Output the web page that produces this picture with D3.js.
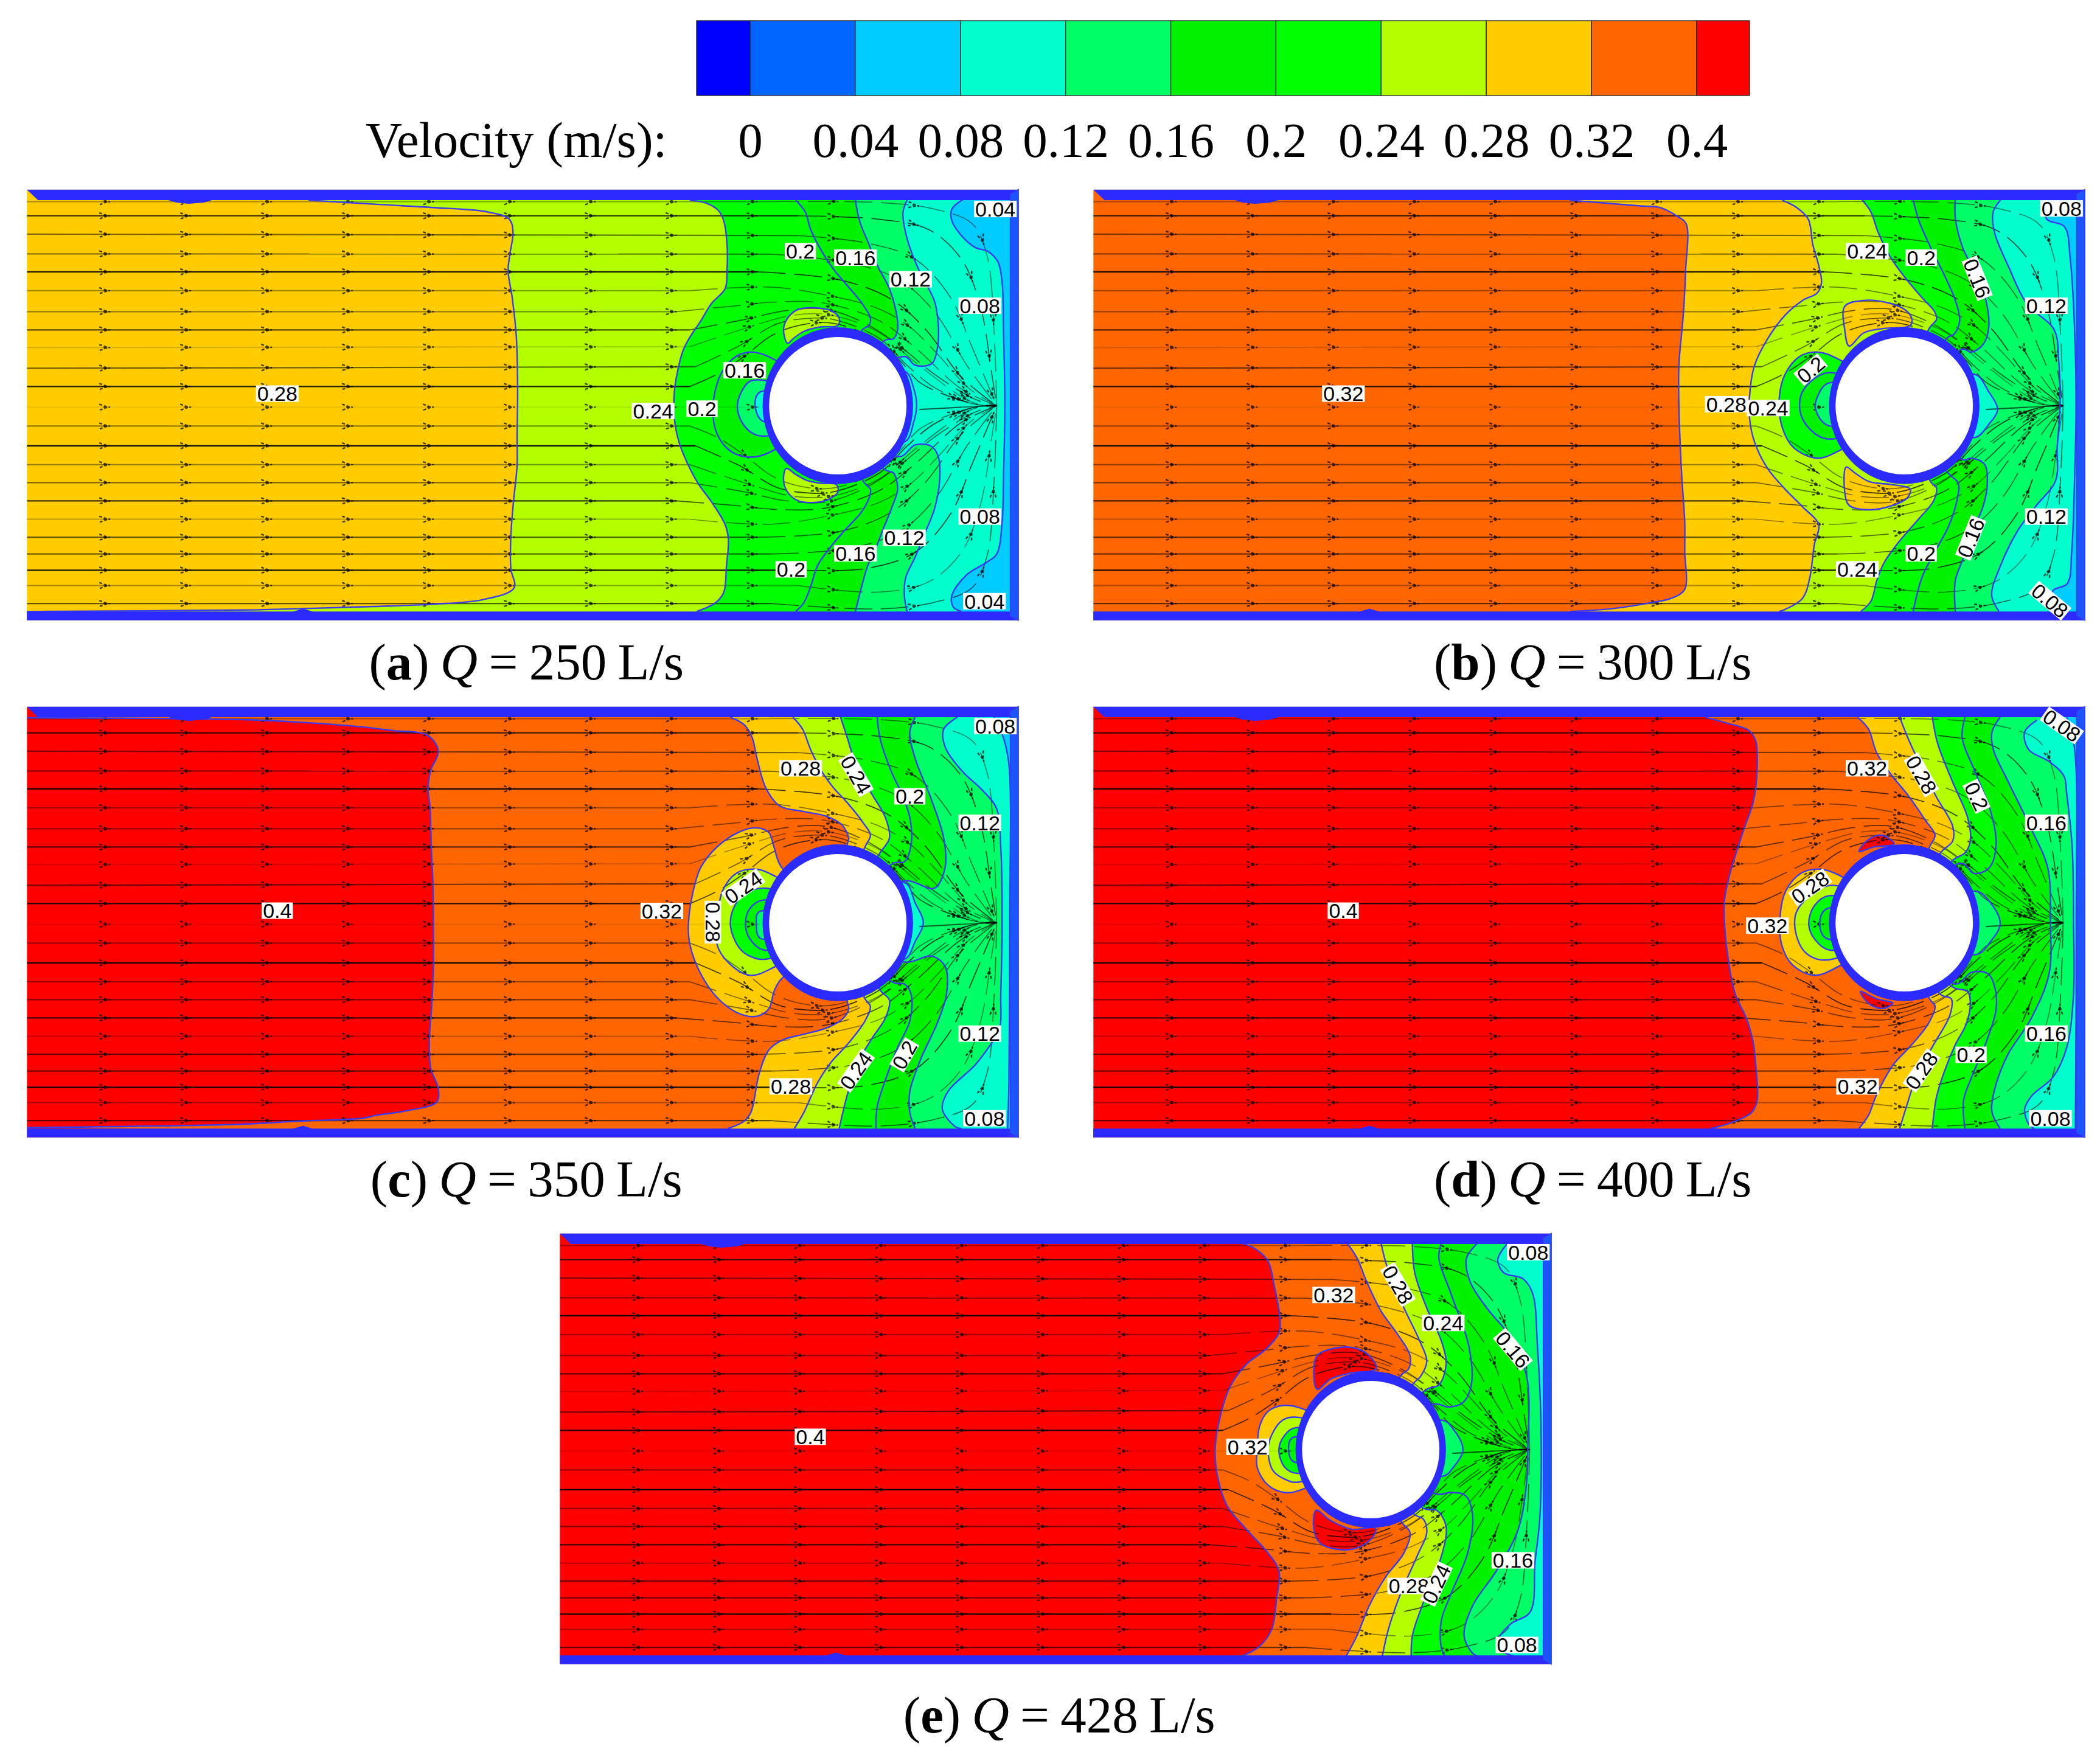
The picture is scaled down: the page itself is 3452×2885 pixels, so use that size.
<!DOCTYPE html>
<html>
<head>
<meta charset="utf-8">
<script src="https://cdn.jsdelivr.net/npm/d3@7"></script>
<style>
html,body{margin:0;padding:0;background:#fff}
svg{display:block}
text{white-space:pre}
</style>
</head>
<body>
<div id="chart"></div>
<script>
// colour bar
var tickLabels = ['0','0.04','0.08','0.12','0.16','0.2','0.24','0.28','0.32','0.4']
var levels = [0,0.04,0.08,0.12,0.16,0.2,0.24,0.28,0.32,0.4]
var palette = ['#0000ff','#0066ff','#00ccff','#00ffcc','#00ff66','#00f200','#00ff00','#b3ff00','#ffcc00','#ff6600','#ff0000']

// captions
var flowRates = ['250','300','350','400','428']
var panelNames = ['a','b','c','d','e']
var captionBaseline = [1117,1117,1967,1967,2848]
var baseVelocity = [0.30,0.36,0.42,0.42,0.42]

// contours: [velocity inside, 'open' (top wall to bottom wall, fill to its right) or 'closed', points]
var contoursA = [
 [0.26,'open',[[-1104,60],[-834,75],[-644,85],[-444,100],[-364,125],[-351,170],[-362,240],[-369,300],[-354,390],[-339,520],[-334,700],[-336,860],[-336,960],[-349,1080],[-359,1200],[-359,1310],[-347,1375],[-464,1415],[-644,1430],[-864,1438],[-1124,1445],[-1344,1450],[-2141,1455]]],
 [0.22,'open',[[300,60],[360,70],[405,95],[425,130],[437,210],[437,300],[430,360],[380,410],[340,470],[300,525],[275,570],[255,640],[243,710],[243,800],[260,880],[290,950],[330,1020],[385,1090],[430,1160],[442,1210],[435,1300],[425,1390],[395,1425],[325,1455]]],
 [0.18,'open',[[690,60],[725,100],[745,160],[790,240],[830,295],[880,350],[930,405],[965,460],[960,485],[935,500],[845,757],[940,1015],[965,1040],[960,1070],[930,1120],[870,1180],[815,1240],[770,1300],[745,1370],[720,1425],[690,1455]]],
 [0.14,'open',[[910,60],[925,130],[960,210],[990,280],[1035,360],[1060,440],[1065,500],[1050,530],[1020,535],[845,757],[1020,975],[1050,985],[1065,1040],[1045,1100],[1010,1180],[985,1240],[955,1300],[930,1380],[910,1455]]],
 [0.10,'open',[[1100,60],[1085,100],[1090,150],[1110,220],[1150,310],[1200,400],[1215,480],[1210,570],[1190,615],[1130,620],[1090,590],[845,757],[1070,930],[1130,890],[1190,895],[1215,930],[1220,1010],[1200,1110],[1165,1190],[1130,1270],[1095,1340],[1090,1400],[1100,1455]]],
 [0.06,'open',[[1310,55],[1265,90],[1265,130],[1300,180],[1350,220],[1400,235],[1435,270],[1450,340],[1455,500],[1460,757],[1455,1000],[1450,1150],[1430,1260],[1390,1290],[1320,1330],[1265,1400],[1270,1440],[1300,1455]]],
 [0.18,'closed',[[610,600],[560,580],[520,575],[470,590],[420,640],[395,700],[385,770],[395,840],[430,895],[480,925],[545,930],[605,910],[845,757]]],
 [0.14,'closed',[[565,670],[520,675],[490,710],[475,760],[490,810],[530,850],[580,860],[845,757]]],
 [0.10,'closed',[[560,710],[540,750],[570,810],[845,757]]],
 [0.10,'closed',[[1090,640],[1125,700],[1135,757],[1125,810],[1090,880],[845,757]]],
 [0.26,'closed',[[660,545],[645,500],[660,460],[700,430],[760,425],[820,435],[850,460],[845,485],[780,490],[720,505],[680,530]]],
 [0.26,'closed',[[655,970],[645,1010],[660,1050],[700,1080],[760,1085],[810,1075],[845,1050],[840,1025],[780,1020],[730,1010],[690,990]]]
]
var contoursB = [
 [0.30,'open',[[-250,60],[0,80],[60,85],[120,115],[150,140],[148,300],[140,450],[125,620],[125,760],[130,900],[135,1000],[145,1150],[145,1250],[145,1380],[100,1410],[30,1425],[-100,1445],[-250,1455]]],
 [0.26,'open',[[480,60],[530,85],[570,125],[585,210],[605,280],[615,340],[600,375],[550,400],[490,450],[430,530],[385,620],[370,700],[368,800],[385,880],[430,970],[490,1040],[550,1100],[605,1160],[590,1230],[575,1340],[550,1410],[490,1448],[470,1455]]],
 [0.22,'open',[[755,60],[785,100],[810,170],[850,250],[900,320],[960,390],[1005,440],[1010,465],[985,495],[900,757],[990,1015],[1010,1035],[1000,1080],[950,1140],[880,1220],[830,1290],[805,1350],[785,1420],[750,1455]]],
 [0.18,'open',[[930,60],[950,130],[990,220],[1040,320],[1075,400],[1090,470],[1070,515],[1050,525],[900,757],[1050,985],[1085,1020],[1080,1080],[1050,1170],[1000,1260],[960,1340],[930,1455]]],
 [0.14,'open',[[1075,60],[1075,120],[1100,220],[1140,300],[1175,380],[1190,490],[1170,550],[1130,575],[1100,565],[900,757],[1100,940],[1130,935],[1175,955],[1185,1020],[1170,1100],[1130,1190],[1100,1280],[1075,1350],[1075,1455]]],
 [0.10,'open',[[1230,60],[1205,100],[1210,170],[1260,290],[1320,410],[1415,500],[1430,600],[1435,757],[1425,900],[1420,1010],[1350,1100],[1290,1180],[1230,1300],[1200,1400],[1225,1455]]],
 [0.06,'open',[[1370,60],[1390,125],[1450,150],[1470,260],[1485,500],[1490,757],[1485,1000],[1475,1250],[1460,1360],[1410,1385],[1420,1455]]],
 [0.22,'closed',[[675,600],[600,575],[540,590],[490,650],[470,730],[480,830],[520,900],[600,935],[675,910],[900,757]]],
 [0.18,'closed',[[650,645],[590,665],[545,720],[545,790],[590,850],[650,870],[900,757]]],
 [0.14,'closed',[[640,680],[600,730],[595,770],[640,825],[900,757]]],
 [0.10,'closed',[[1140,650],[1190,710],[1220,770],[1190,820],[1140,865],[900,757]]],
 [0.30,'closed',[[710,555],[695,500],[695,420],[760,400],[830,405],[900,430],[925,460],[920,485],[830,495],[760,510]]],
 [0.30,'closed',[[700,965],[695,1050],[710,1095],[780,1110],[860,1095],[910,1070],[920,1040],[860,1025],[780,1015],[730,985]]]
]
var contoursC = [
 [0.36,'open',[[-2141,62],[-1344,68],[-1114,78],[-914,92],[-794,105],[-664,122],[-626,175],[-654,240],[-664,300],[-656,370],[-652,500],[-646,620],[-644,760],[-644,900],[-651,1050],[-659,1150],[-654,1250],[-626,1320],[-632,1365],[-744,1395],[-854,1410],[-904,1420],[-1144,1430],[-1344,1440],[-2141,1452]]],
 [0.30,'open',[[450,60],[500,85],[530,130],[545,190],[580,300],[630,360],[720,380],[800,395],[860,425],[885,470],[880,490],[845,757],[880,1025],[885,1050],[860,1085],[800,1115],[720,1135],[640,1155],[590,1190],[555,1270],[525,1400],[500,1430],[440,1455]]],
 [0.26,'open',[[680,60],[715,100],[745,170],[790,250],[830,300],[880,350],[940,420],[965,460],[945,500],[845,757],[945,1015],[965,1040],[945,1090],[880,1170],[820,1230],[770,1300],[720,1400],[685,1455]]],
 [0.22,'open',[[855,60],[880,130],[915,230],[970,320],[1020,400],[1035,470],[1000,520],[845,757],[1000,985],[1035,1020],[1020,1080],[970,1150],[920,1230],[880,1340],[850,1455]]],
 [0.18,'open',[[990,60],[1000,130],[1040,240],[1080,320],[1110,400],[1115,490],[1090,550],[1050,555],[845,757],[1050,960],[1090,965],[1115,1000],[1110,1090],[1065,1180],[1020,1290],[990,1380],[985,1455]]],
 [0.14,'open',[[1130,60],[1110,110],[1130,200],[1190,340],[1235,470],[1240,570],[1200,640],[1090,615],[845,757],[1090,890],[1190,870],[1240,905],[1245,1000],[1210,1100],[1150,1220],[1110,1330],[1110,1400],[1130,1455]]],
 [0.10,'open',[[1285,60],[1235,100],[1240,160],[1300,240],[1380,310],[1430,370],[1445,500],[1450,757],[1445,1000],[1440,1120],[1400,1180],[1350,1240],[1250,1330],[1230,1390],[1280,1450],[1300,1455]]],
 [0.06,'open',[[1420,60],[1455,130],[1475,220],[1478,757],[1475,1300],[1470,1455]]],
 [0.30,'closed',[[635,565],[610,500],[590,450],[540,435],[480,450],[400,500],[340,570],[310,660],[295,760],[300,830],[340,930],[400,1010],[470,1060],[540,1075],[590,1050],[610,990],[630,955],[845,757]]],
 [0.26,'closed',[[605,595],[540,575],[470,590],[420,650],[405,720],[400,830],[440,890],[520,935],[605,910],[845,757]]],
 [0.22,'closed',[[585,640],[500,660],[460,710],[450,770],[480,840],[520,870],[585,880],[845,757]]],
 [0.18,'closed',[[570,680],[520,710],[505,760],[520,810],[575,850],[845,757]]],
 [0.14,'closed',[[555,720],[545,760],[560,810],[845,757]]],
 [0.10,'closed',[[1090,620],[1130,690],[1160,757],[1130,820],[1090,880],[845,757]]]
]
var contoursD = [
 [0.36,'open',[[120,60],[200,80],[280,105],[305,140],[310,240],[295,350],[265,430],[240,500],[210,590],[190,680],[190,760],[205,890],[230,1000],[270,1080],[295,1160],[305,1240],[310,1360],[290,1400],[230,1430],[140,1455]]],
 [0.30,'open',[[680,60],[720,100],[750,180],[800,250],[870,330],[930,410],[965,460],[945,500],[851,757],[945,1015],[965,1040],[940,1100],[880,1170],[810,1240],[750,1340],[720,1410],[685,1455]]],
 [0.26,'open',[[835,60],[865,130],[910,220],[970,330],[1030,430],[1030,480],[985,520],[851,757],[985,1000],[1025,1015],[1020,1070],[960,1170],[900,1270],[860,1380],[835,1455]]],
 [0.22,'open',[[955,60],[975,150],[1030,280],[1085,400],[1095,480],[1075,520],[1030,545],[851,757],[1030,975],[1085,990],[1095,1030],[1080,1100],[1040,1170],[1000,1260],[970,1350],[955,1455]]],
 [0.18,'open',[[1075,60],[1065,130],[1110,240],[1170,380],[1190,490],[1165,570],[1110,590],[1060,555],[851,757],[1040,965],[1100,925],[1160,930],[1185,975],[1190,1050],[1150,1170],[1100,1280],[1070,1360],[1075,1455]]],
 [0.14,'open',[[1205,60],[1175,110],[1180,170],[1230,270],[1320,440],[1380,570],[1390,757],[1385,930],[1320,1080],[1230,1210],[1180,1340],[1175,1400],[1205,1455]]],
 [0.10,'open',[[1340,70],[1295,110],[1310,170],[1385,210],[1440,260],[1450,320],[1470,500],[1475,757],[1475,1000],[1450,1180],[1400,1280],[1320,1345],[1295,1390],[1310,1440],[1330,1455]]],
 [0.06,'open',[[1450,60],[1478,160],[1485,757],[1482,1455]]],
 [0.30,'closed',[[610,595],[540,575],[470,590],[415,650],[395,730],[400,830],[440,900],[520,935],[610,905],[851,757]]],
 [0.26,'closed',[[590,630],[500,670],[455,720],[450,780],[480,850],[530,880],[590,880],[851,757]]],
 [0.22,'closed',[[575,665],[520,700],[500,760],[520,810],[580,850],[851,757]]],
 [0.18,'closed',[[565,710],[540,760],[565,810],[851,757]]],
 [0.14,'closed',[[1115,650],[1170,690],[1205,760],[1170,820],[1115,865],[851,757]]],
 [0.42,'closed',[[685,515],[720,475],[770,460],[815,490],[740,500]]],
 [0.42,'closed',[[690,990],[720,1030],[770,1048],[810,1030],[750,1015]]]
]
var contoursE = [
 [0.36,'open',[[235,70],[290,90],[340,130],[365,210],[390,330],[385,375],[330,430],[250,480],[180,560],[135,680],[120,770],[130,860],[170,960],[250,1040],[340,1120],[385,1180],[375,1280],[355,1380],[300,1440],[230,1470]]],
 [0.30,'open',[[670,70],[710,120],[750,200],[810,300],[880,380],[930,450],[925,495],[890,520],[767,770],[895,1015],[930,1050],[905,1120],[830,1200],[760,1300],[710,1400],[665,1470]]],
 [0.26,'open',[[810,70],[835,150],[900,280],[970,400],[1000,470],[975,520],[945,545],[767,770],[950,990],[985,1005],[1000,1050],[960,1130],[890,1260],[840,1380],[815,1470]]],
 [0.22,'open',[[940,70],[950,170],[1000,290],[1060,400],[1080,480],[1050,550],[1000,565],[767,770],[990,970],[1040,975],[1080,1030],[1050,1160],[980,1300],[940,1400],[935,1470]]],
 [0.18,'open',[[1060,70],[1050,120],[1100,240],[1175,420],[1185,550],[1150,610],[1090,625],[1030,615],[767,770],[1040,920],[1100,915],[1160,925],[1190,990],[1170,1120],[1100,1260],[1060,1350],[1060,1440],[1075,1470]]],
 [0.14,'open',[[1210,70],[1165,120],[1180,200],[1250,290],[1340,380],[1415,520],[1420,770],[1415,880],[1380,1040],[1290,1180],[1190,1300],[1155,1400],[1190,1460],[1210,1470]]],
 [0.10,'open',[[1335,70],[1295,125],[1320,170],[1400,190],[1440,240],[1460,420],[1475,700],[1470,1000],[1450,1150],[1430,1320],[1350,1360],[1300,1410],[1310,1450],[1360,1470]]],
 [0.30,'closed',[[480,630],[400,620],[340,640],[305,690],[295,770],[295,830],[340,890],[410,915],[480,905],[767,770]]],
 [0.26,'closed',[[465,660],[400,670],[355,720],[340,770],[360,840],[410,870],[465,880],[767,770]]],
 [0.22,'closed',[[455,695],[410,720],[385,770],[410,830],[460,850],[767,770]]],
 [0.18,'closed',[[440,730],[425,770],[445,810],[767,770]]],
 [0.14,'closed',[[1065,670],[1110,700],[1150,770],[1110,830],[1065,860],[767,770]]],
 [0.42,'closed',[[545,565],[530,510],[545,450],[620,425],[700,425],[760,450],[790,495],[680,510],[600,530]]],
 [0.42,'closed',[[540,975],[530,1040],[555,1085],[630,1108],[720,1100],[780,1060],[785,1035],[690,1040],[600,1010]]]
]

// contour labels: [text, x, y, angle]
var labelsA = [['0.28',-1219,716,0],['0.04',1425,90,0],['0.2',707,233,0],['0.16',910,255,0],['0.12',1113,328,0],['0.08',1368,418,0],['0.16',502,637,0],['0.24',165,775,0],['0.2',345,767,0],['0.08',1368,1133,0],['0.12',1090,1205,0],['0.16',910,1258,0],['0.2',673,1312,0],['0.04',1385,1420,0]]
var labelsB = [['0.32',-1028,716,0],['0.08',1440,88,0],['0.24',772,233,0],['0.2',958,255,0],['0.16',1150,325,68],['0.12',1388,418,0],['0.2',578,635,-40],['0.28',288,752,0],['0.24',432,765,0],['0.12',1388,1133,0],['0.16',1128,1205,-68],['0.2',958,1258,0],['0.24',738,1312,0],['0.08',1400,1418,40]]
var labelsC = [['0.4',-1219,716,0],['0.08',1425,90,0],['0.28',708,233,0],['0.24',912,255,60],['0.2',1110,328,0],['0.12',1368,418,0],['0.24',497,637,-35],['0.32',197,717,0],['0.28',385,755,90],['0.12',1368,1133,0],['0.2',1090,1205,-60],['0.24',912,1258,-55],['0.28',672,1312,0],['0.08',1385,1420,0]]
var labelsD = [['0.4',-1214,716,0],['0.08',1432,88,35],['0.32',715,233,0],['0.28',915,255,60],['0.2',1118,328,65],['0.16',1375,418,0],['0.28',505,637,-35],['0.32',348,767,0],['0.16',1375,1133,0],['0.2',1098,1205,0],['0.28',915,1258,-55],['0.32',680,1312,0],['0.08',1390,1420,0]]
var labelsE = [['0.4',-1563,726,0],['0.08',1422,100,0],['0.32',613,245,0],['0.28',880,210,60],['0.24',1068,340,0],['0.16',1358,430,50],['0.32',255,760,0],['0.16',1358,1145,0],['0.28',925,1232,0],['0.24',1040,1225,-65],['0.08',1375,1432,0]]

// streamlines shared by all five panels, upper half
var streamUpper = [
 [[-2141,65],[600,65],[1000,68],[1200,90],[1340,140],[1395,250],[1420,500],[1430,757]],
 [[-2141,113],[700,113],[1000,125],[1180,160],[1300,260],[1370,420],[1412,650],[1430,757]],
 [[-2141,175],[700,180],[950,205],[1130,260],[1260,390],[1340,560],[1430,757]],
 [[-2141,242],[600,243],[900,275],[1080,335],[1210,450],[1320,620],[1430,757]],
 [[-2141,303],[550,303],[850,330],[1040,395],[1170,500],[1300,660],[1430,757]],
 [[-2141,367],[300,367],[600,355],[820,385],[1000,430],[1110,490],[1210,580],[1330,700],[1430,757]],
 [[-2141,438],[250,438],[450,420],[620,405],[800,410],[1000,470],[1130,560],[1300,700],[1430,757]],
 [[-2141,500],[300,500],[500,465],[650,435],[800,430],[950,480],[1080,560],[1200,650],[1350,735],[1430,757]],
 [[-2141,560],[300,557],[520,490],[680,450],[820,450],[1000,510],[1130,610],[1340,745],[1430,757]],
 [[-2141,630],[320,625],[480,555],[620,480],[720,462],[830,465],[1000,530],[1100,620],[1200,695],[1340,750],[1430,757]],
 [[-2141,692],[300,692],[400,650],[500,590],[600,520],[700,485],[830,478],[1000,540],[1080,610],[1150,680],[1350,752],[1430,757]]
]
var streamCentre = [[[-2141,762],[560,762]],[[1145,770],[1300,762],[1435,757]]]
var streamLowerStart = [826,893,957,1018,1080,1142,1203,1260,1315,1367,1428]
var streamDarkUpper = [0.35,0.8,0.5,0.45,0.9,0.35,0.4,0.65,0.15,0.55,0.85]
var streamDarkLower = [0.4,0.95,0.4,0.5,0.75,0.25,0.6,0.55,0.9,0.3,0.6]

// walls, read in the same frame as the streamlines
var wallOuter = [[-2141,24],[1510,24],[1510,1485],[-2141,1485]]
var wallInner = [[-2141,24],[-2100,60],[-1620,60],[-1590,68],[-1545,72],[-1490,68],[-1460,60],[1480,60],[1480,1455],[-1090,1455],[-1124,1445],[-1160,1455],[-2141,1455]]
var wallRight = [[1480,40],[1510,24],[1510,1485],[1480,1470]]
var cylinder = { x:845, y:757, r:253, ringX:277, ringY:266 }

var W = 3452, H = 2885
var panelLeft = [44,1797,44,1797,920]
var panelTop = [312,312,1162,1162,2028]
var cropX = [1000,2700,1000,2750,1950]
var cropY = [300,300,1150,1150,2010]
var cropW = [700,750,700,700,620]
var cropH = 760
var digitSize = 1568
var allContours = [contoursA,contoursB,contoursC,contoursD,contoursE]
var allLabels = [labelsA,labelsB,labelsC,labelsD,labelsE]

var blue = '#2b2bff', lineBlue = '#3a3aee'
var serif = '"Liberation Serif","Times New Roman",serif'
var sans = '"Liberation Sans",Arial,sans-serif'

var color = d3.scaleThreshold().domain(levels).range(palette)

var svg = d3.select('#chart').append('svg')
    .attr('width', W).attr('height', H).attr('viewBox', [0,0,W,H])
    .style('background','#fff')

// ---- colour bar
function drawColorBar() {
    var x = d3.scalePoint().domain(tickLabels).range([1233,2789])
    var edges = [x('0') - 88].concat(tickLabels.map(t=> x(t)), [x('0.4') + 87])
    var barTop = 34, barH = 123
    var g = svg.append('g')
    g.selectAll('rect').data(palette).enter().append('rect')
        .attr('x', (d,i)=> edges[i])
        .attr('y', barTop)
        .attr('width', (d,i)=> edges[i+1] - edges[i])
        .attr('height', barH)
        .attr('fill', d=> d)
        .attr('stroke','#222').attr('stroke-width',1.3)

    var axis = svg.append('g')
        .attr('transform','translate(0,258)')
        .call(d3.axisBottom(x).tickSize(0).tickPadding(0))
    axis.select('.domain').remove()
    axis.selectAll('text')
        .attr('y',0).attr('dy',0)
        .style('font-family',serif).style('font-size','81px').attr('fill','#000')

    svg.append('text').attr('x',601).attr('y',258)
        .style('font-family',serif).style('font-size','83px')
        .text('Velocity (m/s):')
}

// ---- one panel
function drawPanel(i) {
    var x = d3.scaleLinear().domain([0,digitSize]).range([cropX[i], cropX[i] + cropW[i]])
    var y = d3.scaleLinear().domain([0,digitSize]).range([cropY[i], cropY[i] + cropH])
    var sx = d3.scaleLinear().domain([0,digitSize]).range([panelLeft[i] + cropX[0] - panelLeft[0], panelLeft[i] + cropX[0] - panelLeft[0] + cropW[0]])
    var sy = d3.scaleLinear().domain([0,digitSize]).range([panelTop[i] + cropY[0] - panelTop[0], panelTop[i] + cropY[0] - panelTop[0] + cropH])

    var g = svg.append('g')
    var clipId = 'clip' + i
    g.append('clipPath').attr('id',clipId).append('rect')
        .attr('x',sx(wallOuter[0][0])).attr('y',sy(wallOuter[0][1]))
        .attr('width',sx(wallOuter[1][0]) - sx(wallOuter[0][0]))
        .attr('height',sy(wallOuter[2][1]) - sy(wallOuter[0][1]))

    var fld = g.append('g').attr('clip-path','url(#' + clipId + ')')

    fld.append('rect')
        .attr('x',sx(wallOuter[0][0])).attr('y',sy(wallOuter[0][1]))
        .attr('width',sx(wallOuter[1][0]) - sx(wallOuter[0][0]))
        .attr('height',sy(wallOuter[2][1]) - sy(wallOuter[0][1]))
        .attr('fill',color(baseVelocity[i]))

    var openLine = d3.line().x(d=> x(d[0])).y(d=> y(d[1])).curve(d3.curveCatmullRom.alpha(0.5))
    var closedLine = d3.line().x(d=> x(d[0])).y(d=> y(d[1])).curve(d3.curveCatmullRomClosed.alpha(0.5))
    var right = sx(wallOuter[1][0]), top = sy(wallOuter[0][1]), bottom = sy(wallOuter[2][1])

    var contours = allContours[i]
    fld.selectAll('path.band').data(contours).enter().append('path')
        .attr('class','band')
        .attr('fill', d=> color(d[0]))
        .attr('stroke','none')
        .attr('d', d=> d[1]=='open'
            ? openLine(d[2]) + 'L' + right + ',' + bottom + 'L' + right + ',' + top + 'Z'
            : closedLine(d[2]) + 'Z')

    // streamlines: a straight run from the inlet, then the bend to the outlet
    var sl = d3.line().x(d=> sx(d[0])).y(d=> sy(d[1])).curve(d3.curveCatmullRom.alpha(0.5))
    var mirror = 2 * cylinder.y
    var lines = []
    streamUpper.forEach((s,k)=> lines.push({ pts:s, dark:streamDarkUpper[k] }))
    streamCentre.forEach((s,k)=> lines.push({ pts:s, dark:k ? 0.6 : 0.08 }))
    streamLowerStart.forEach((start,k)=> {
        var up = streamUpper[streamUpper.length - 1 - k]
        var pts = up.map((p,j)=> j<2 ? [p[0],start] : [p[0],mirror - p[1]])
        lines.push({ pts:pts, dark:streamDarkLower[k] })
    })
    var straight = d=> 'M' + sx(d.pts[0][0]) + ',' + sy(d.pts[0][1]) + 'L' + sx(d.pts[1][0]) + ',' + sy(d.pts[1][1])
    var full = d=> d.pts.length>2 ? straight(d) + 'L' + sl(d.pts.slice(1)).slice(1) : straight(d)
    fld.selectAll('path.straight').data(lines).enter().append('path')
        .attr('class','straight')
        .attr('fill','none')
        .attr('stroke','#000')
        .attr('stroke-width',2.2)
        .attr('stroke-opacity', d=> d.dark)
        .attr('d', straight)
    fld.selectAll('path.bend').data(lines.filter(d=> d.pts.length>2)).enter().append('path')
        .attr('class','bend')
        .attr('fill','none')
        .attr('stroke','#000')
        .attr('stroke-width',1.7)
        .attr('stroke-opacity', d=> 0.3 + d.dark * 0.45)
        .attr('stroke-dasharray','46 14')
        .attr('d', d=> sl(d.pts.slice(1)))

    // arrow marks every 133 px along each streamline
    var marks = ''
    var probe = fld.append('path')
    lines.forEach(d=> {
        probe.attr('d', full(d))
        var node = probe.node(), len = node.getTotalLength()
        for (var s=133; s<len-8; s+=133) {
            var p = node.getPointAtLength(s), q = node.getPointAtLength(s-4)
            var a = Math.atan2(p.y-q.y, p.x-q.x), c = Math.cos(a), n = Math.sin(a)
            var b = function(u,v) { return (p.x + u*c - v*n) + ',' + (p.y + u*n + v*c) }
            marks += 'M' + b(-14,-5) + 'L' + b(0,0) + 'L' + b(-14,5) + 'M' + b(-7,0) + 'L' + b(4,0)
        }
    })
    probe.remove()
    fld.append('path').attr('d',marks).attr('fill','none')
        .attr('stroke','#000').attr('stroke-width',2.4).attr('stroke-opacity',0.7)
        .attr('stroke-dasharray','5 3')

    // contour outlines
    fld.selectAll('path.outline').data(contours).enter().append('path')
        .attr('class','outline')
        .attr('fill','none')
        .attr('stroke',lineBlue)
        .attr('stroke-width',2.4)
        .attr('d', d=> d[1]=='open' ? openLine(d[2]) : closedLine(d[2]) + 'Z')

    // walls
    var poly = function(a) { return 'M' + a.map(d=> sx(d[0]) + ',' + sy(d[1])).join('L') + 'Z' }
    g.append('path').attr('d', poly(wallOuter) + poly(wallInner))
        .attr('fill-rule','evenodd').attr('fill',blue)
    g.append('path').attr('d', poly(wallRight)).attr('fill','#1a55ff')
        .attr('stroke',lineBlue).attr('stroke-width',1.5)

    // cylinder
    g.append('ellipse').attr('cx',sx(cylinder.x)).attr('cy',sy(cylinder.y))
        .attr('rx',sx(cylinder.x + cylinder.ringX) - sx(cylinder.x))
        .attr('ry',sy(cylinder.y + cylinder.ringY) - sy(cylinder.y))
        .attr('fill',blue)
    g.append('circle').attr('cx',sx(cylinder.x)).attr('cy',sy(cylinder.y))
        .attr('r',sx(cylinder.x + cylinder.r) - sx(cylinder.x)).attr('fill','#fff')

    // contour labels
    var lab = g.selectAll('g.lab').data(allLabels[i]).enter().append('g')
        .attr('class','lab')
        .attr('transform', d=> 'translate(' + x(d[1]) + ',' + y(d[2]) + ') rotate(' + d[3] + ')')
    lab.append('text')
        .attr('text-anchor','middle').attr('dy','0.36em')
        .style('font-family',sans).style('font-size','34px').attr('fill','#000')
        .text(d=> d[0])
    lab.each(function() {
        var t = d3.select(this).select('text'), b = t.node().getBBox()
        d3.select(this).insert('rect','text')
            .attr('x', b.x - 2).attr('width', b.width + 4)
            .attr('y', -13.5).attr('height', 27)
            .attr('fill','#fff')
    })

    // caption
    var cap = svg.append('text')
        .attr('x', sx(cylinder.x) - 512).attr('y', captionBaseline[i])
        .attr('text-anchor','middle')
        .style('font-family',serif).style('font-size','85px').style('word-spacing','-3px').attr('fill','#000')
    cap.append('tspan').text('(')
    cap.append('tspan').style('font-weight','bold').text(panelNames[i])
    cap.append('tspan').text(') ')
    cap.append('tspan').style('font-style','italic').text('Q')
    cap.append('tspan').text(' = ' + flowRates[i] + ' L/s')
}

drawColorBar()
d3.range(5).forEach(drawPanel)
</script>
</body>
</html>
